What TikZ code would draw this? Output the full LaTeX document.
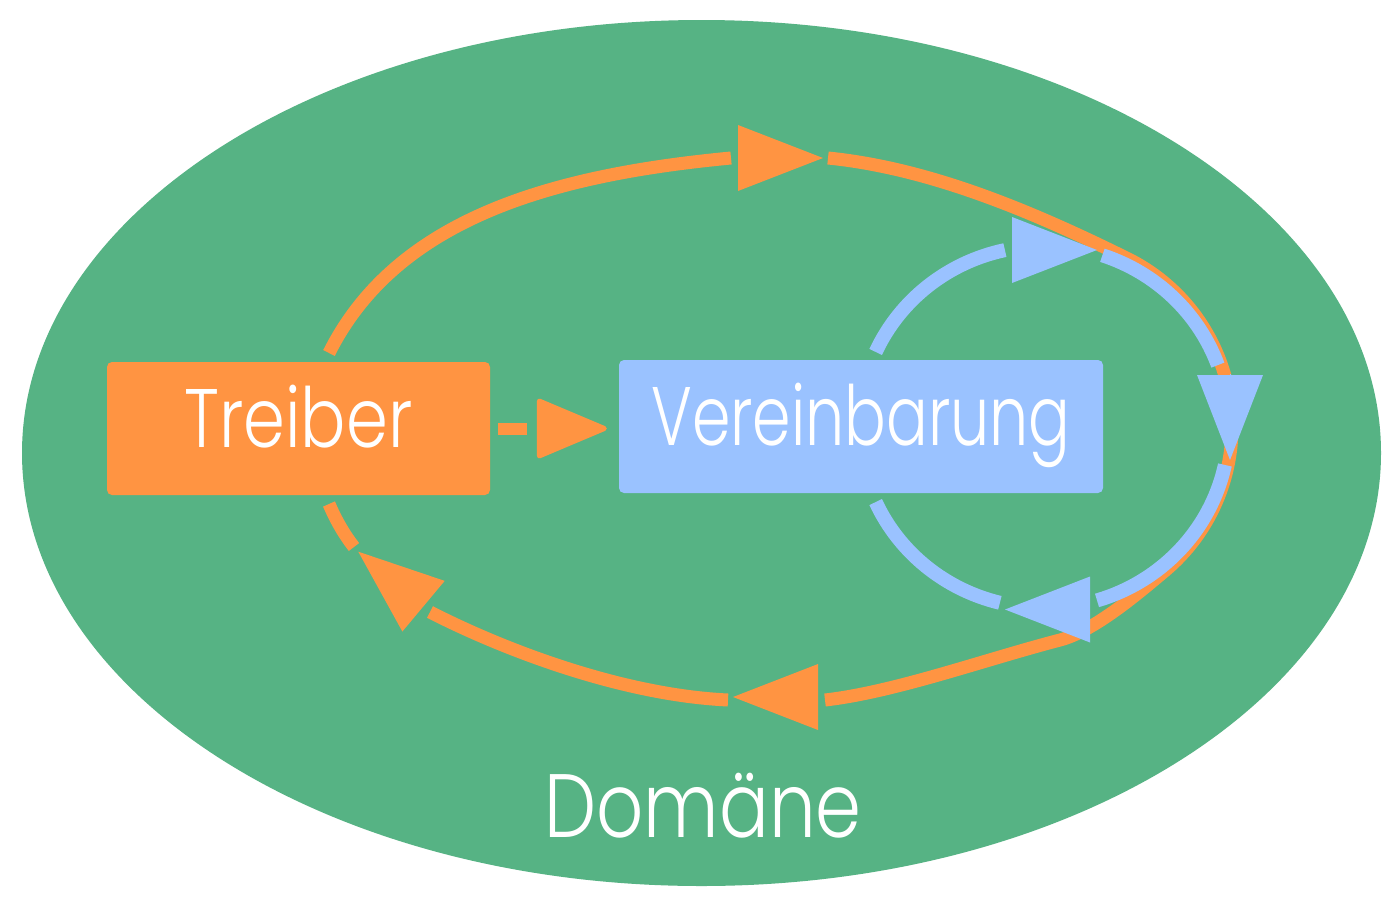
\documentclass[tikz,border=0pt]{standalone}
\usepackage{fontspec}
\setmainfont{Poppins Light}
\usetikzlibrary{arrows.meta}
\definecolor{dgreen}{RGB}{86,179,132}
\definecolor{dorange}{RGB}{255,148,66}
\definecolor{dblue}{RGB}{154,194,255}
\begin{document}
\begin{tikzpicture}[x=1pt,y=-1pt,
  box/.style={rounded corners=5pt, minimum height=133pt, inner sep=0pt,
    text=white, text height=59pt, text depth=21pt,
    font=\fontsize{83}{83}\selectfont},
  oline/.style={draw=dorange, line width=13pt},
  bline/.style={draw=dblue, line width=14pt},
  otip/.style={draw=dorange, line width=0.1pt, -{Triangle[length=85pt,width=66pt,line width=0pt]}},
  btip/.style={draw=dblue, line width=0.1pt, -{Triangle[length=85pt,width=66pt,line width=0pt]}},
]
\useasboundingbox (0,0) rectangle (1399,913);
\fill[white] (0,0) rectangle (1399,913);
\fill[dgreen] (701.5,453) ellipse[x radius=679.5, y radius=433];

\node[box, fill=dorange, minimum width=383pt] (Treiber) at (298.5,428.5) {\scalebox{0.81}[1]{Treiber}};
\node[box, fill=dblue, minimum width=484pt] (Vereinbarung) at (861,426.5) {\scalebox{0.745}[1]{Vereinbarung}};
\node[text=white, font=\fontsize{90}{90}\selectfont, anchor=base, inner sep=0pt] (Domaene) at (703,837) {\scalebox{0.82}[1]{Domäne}};

% orange loop
\coordinate (o1s) at (329,353);
\coordinate (o1e) at (731,158);
\coordinate (oa1b) at (738,158);
\coordinate (oa1t) at (823,158);
\coordinate (o2s) at (828,158);
\coordinate (o2e) at (825,700);
\coordinate (oa2b) at (817,697);
\coordinate (oa2t) at (733,697);
\coordinate (o3s) at (728,700);
\coordinate (o3e) at (430,612);
\coordinate (oa3b) at (422.7,605.5);
\coordinate (oa3t) at (358.3,551.7);
\coordinate (o4s) at (354,547);
\coordinate (o4e) at (329,504);

\draw[oline] (o1s) .. controls (396,219) and (551,175) .. (o1e);
\draw[otip] (oa1b) -- (oa1t);
\draw[oline] (o2s) .. controls (928,168) and (1030,210) .. (1130.8,260.2)
  arc[start angle=-62.5, end angle=50, radius=188]
  .. controls (1138,593.5) and (1094,631) .. (1060,640)
  .. controls (982.6,660.2) and (895,692) .. (o2e);
\draw[otip] (oa2b) -- (oa2t);
\draw[oline] (o3s) .. controls (620,695) and (500,648) .. (o3e);
\draw[otip] (oa3b) -- (oa3t);
\draw[oline] (o4s) .. controls (343,533) and (335,518) .. (o4e);

% blue loop
\coordinate (bc) at (1044,427);
\coordinate (ba1b) at (1013,250);
\coordinate (ba1t) at (1097,250);
\coordinate (ba2b) at (1230,374);
\coordinate (ba2t) at (1230,460);
\coordinate (ba3b) at (1090,609.5);
\coordinate (ba3t) at (1005,609.5);

\draw[bline] ([shift={(204.5:185 and 181)}]bc) arc[start angle=204.5, end angle=257.8, x radius=185, y radius=181];
\draw[btip] (ba1b) -- (ba1t);
\draw[bline] ([shift={(288.4:185 and 181)}]bc) arc[start angle=288.4, end angle=340, x radius=185, y radius=181];
\draw[btip] (ba2b) -- (ba2t);
\draw[bline] ([shift={(12.1:185 and 181)}]bc) arc[start angle=12.1, end angle=73.35, x radius=185, y radius=181];
\draw[btip] (ba3b) -- (ba3t);
\draw[bline] ([shift={(103.8:185 and 181)}]bc) arc[start angle=103.8, end angle=155.5, x radius=185, y radius=181];

% dashed connector
\draw[draw=dorange, line width=12pt, dash pattern=on 29pt off 14pt, dash phase=35pt,
  shorten >=12pt, -{Triangle[length=74pt,width=61pt,round,line width=5pt]}]
  (Treiber.east) -- (Treiber.east -| Vereinbarung.west);
\end{tikzpicture}
\end{document}
